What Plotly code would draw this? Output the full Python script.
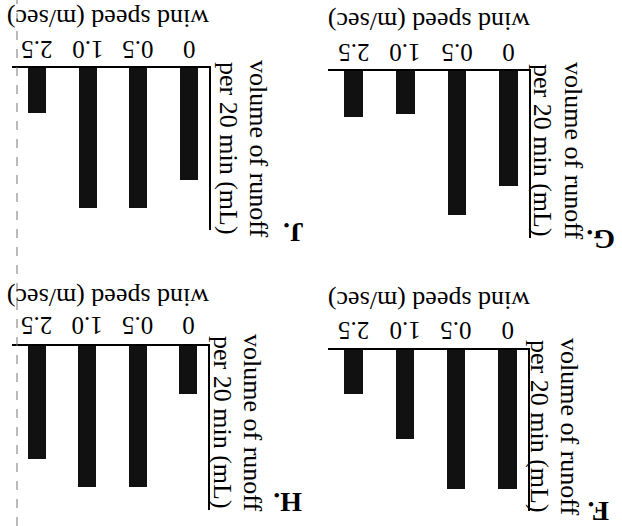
import plotly.graph_objects as go

# the scanned page is upside down, so every panel is drawn rotated by 180 degrees
wind_speeds = ["0", "0.5", "1.0", "2.5"]
runoff_F = [5.0, 5.0, 3.2, 1.6]
runoff_G = [4.0, 5.0, 1.5, 1.6]
runoff_H = [1.7, 5.0, 5.0, 4.0]
runoff_J = [4.0, 5.0, 5.0, 1.6]
x_title = "wind speed (m/sec)"
y_title_lines = ["volume of runoff", "per 20 min (mL)"]

W, H = 622, 526
FONT = "Liberation Serif, Times New Roman, serif"

# pixel boxes: left, right, baseline (top), axis end (bottom)
# ytitle: x of each title column, shared y centre
panels = [
    dict(data=runoff_J, label="J.", box=(12, 209, 68, 230), ytitle=((258, 228), 148), lab=(294, 233), xtitle=(108, 18), tick_y=50),
    dict(data=runoff_G, label="G.", box=(328, 529, 71, 238), ytitle=((574, 543), 150), lab=(601, 240), xtitle=(429, 22), tick_y=53),
    dict(data=runoff_H, label="H.", box=(12, 208, 346, 510), ytitle=((253, 223), 422), lab=(288, 503), xtitle=(108, 298), tick_y=326),
    dict(data=runoff_F, label="F.", box=(328, 528, 350, 511), ytitle=((570, 540), 426), lab=(598, 512), xtitle=(429, 301), tick_y=331),
]


def note(x, y, text, angle, size, xref="paper"):
    return dict(x=x, y=y, xref=xref, yref="paper", text=text, textangle=angle,
                xanchor="center", yanchor="middle", showarrow=False,
                font=dict(family=FONT, size=size, color="black"))


fig = go.Figure()
annotations = []
for i, p in enumerate(panels):
    n = "" if i == 0 else str(i + 1)
    l, r, t, b = p["box"]
    fig.add_trace(go.Bar(
        x=wind_speeds, y=p["data"], xaxis="x" + n, yaxis="y" + n,
        marker=dict(color="#111111", line=dict(width=0)), width=0.36,
        showlegend=False,
    ))
    fig.update_layout(**{
        "xaxis" + n: dict(domain=[l / W, r / W], anchor="y" + n, type="category",
                          range=[3.5, -0.4], side="top", showline=True,
                          linecolor="black", linewidth=2, showgrid=False,
                          showticklabels=False, ticks="", zeroline=False),
        "yaxis" + n: dict(domain=[1 - b / H, 1 - t / H], anchor="x" + n,
                          range=[5.8, 0], side="right", showline=True,
                          linecolor="black", linewidth=2, showgrid=False,
                          showticklabels=False, ticks="", zeroline=False),
    })
    # upside-down tick labels, placed at the category index on each x axis
    for j, ws in enumerate(wind_speeds):
        annotations.append(note(j, 1 - p["tick_y"] / H, ws, 180, 25, xref="x" + n))
    annotations.append(note(p["xtitle"][0] / W, 1 - p["xtitle"][1] / H, x_title, 180, 26))
    for cx, line in zip(p["ytitle"][0], y_title_lines):
        annotations.append(note(cx / W, 1 - p["ytitle"][1] / H, line, 90, 26))
    annotations.append(note(p["lab"][0] / W, 1 - p["lab"][1] / H, "<b>" + p["label"] + "</b>", 180, 28))

fig.update_layout(
    width=W, height=H,
    margin=dict(l=0, r=0, t=0, b=0),
    paper_bgcolor="white", plot_bgcolor="white",
    bargap=0,
    annotations=annotations,
    shapes=[dict(type="line", xref="paper", yref="paper", x0=17 / W, x1=17 / W, y0=0, y1=1,
                 line=dict(color="#777777", width=1, dash="dash"))],
)

fig.write_html("out.html", config={"displayModeBar": False},
               post_script="document.body.style.margin='0';")
